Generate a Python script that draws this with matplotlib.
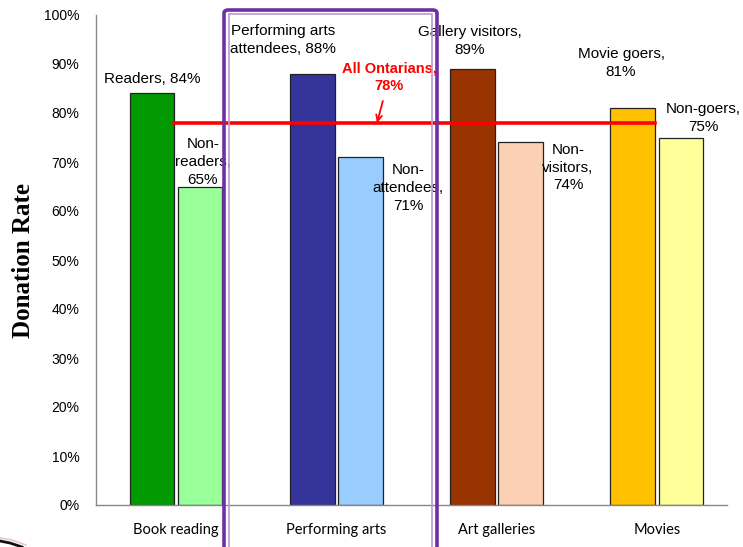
import numpy as np
import matplotlib
matplotlib.use("Agg")
from matplotlib import pyplot as plt
from matplotlib.patches import FancyBboxPatch
from matplotlib.lines import Line2D

# donation rate by arts participation, participants vs non-participants
categories = ["Book reading", "Performing arts", "Art galleries", "Movies"]
participants = [84, 88, 89, 81]
non_participants = [65, 71, 74, 75]
part_labels = ["Readers", "Performing arts\nattendees", "Gallery visitors", "Movie goers"]
non_labels = ["Non-\nreaders", "Non-\nattendees", "Non-\nvisitors", "Non-goers"]
all_ontarians = 78

part_colors = ["#009900", "#333399", "#993300", "#FFC000"]
non_colors = ["#99FF99", "#99CCFF", "#FCD0B4", "#FFFF99"]

fig = plt.figure(figsize=(7.43, 5.47), dpi=100)
ax = fig.add_axes([96/743, 1-505/547, 631/743, 490/547])

x = np.arange(len(categories))
w = 0.28
off = 0.15
ax.bar(x - off, participants, w, color=part_colors, edgecolor="#222222", linewidth=0.9, zorder=2)
ax.bar(x + off, non_participants, w, color=non_colors, edgecolor="#222222", linewidth=0.9, zorder=2)

ax.set_xlim(-0.499, 3.437)
ax.set_ylim(0, 100)
ax.set_yticks(np.arange(0, 101, 10))
ax.set_yticklabels([f"{v}%" for v in range(0, 101, 10)], fontsize=10, family="Liberation Sans")
ax.set_xticks(x)
ax.set_xticklabels(categories, fontsize=10.5, family="Lato")
ax.tick_params(length=0, pad=12)
ax.tick_params(axis="x", pad=13)
for s in ["top", "right"]:
    ax.spines[s].set_visible(False)
for s in ["left", "bottom"]:
    ax.spines[s].set_color("#888888")
    ax.spines[s].set_linewidth(1)

ax.set_ylabel("Donation Rate", family="Liberation Serif", fontsize=18, fontweight="bold")
ax.yaxis.set_label_coords(-0.097, 0.5)

# province-wide average line, from first bar to last participant bar
ax.plot([x[0] - off + w/2, x[3] - off + w/2], [all_ontarians]*2, color="#FF0000", lw=2.6, zorder=3)
ax.annotate(f"All Ontarians,\n{all_ontarians}%", xy=(1.254, all_ontarians), xytext=(1.33, 87.3),
            ha="center", va="center", color="#FF0000", fontsize=10.5, fontweight="bold",
            family="Liberation Sans", linespacing=1.3,
            arrowprops=dict(arrowstyle="->", color="#FF0000", lw=1.3, shrinkA=4, shrinkB=0), zorder=4)

# bar labels
tk = dict(ha="center", va="bottom", fontsize=11, family="Liberation Sans", linespacing=1.35, zorder=4)
ax.text(x[0] - off, 85.6, f"{part_labels[0]}, {participants[0]}%", **tk)
ax.text(0.168, 64.9, f"{non_labels[0]},\n{non_participants[0]}%", **tk)
ax.text(0.668, 91.6, f"{part_labels[1]}, {participants[1]}%", **tk)
ax.text(1.447, 59.6, f"{non_labels[1]},\n{non_participants[1]}%", **tk)
ax.text(1.834, 91.5, f"{part_labels[2]},\n{participants[2]}%", **tk)
ax.text(2.445, 63.8, f"{non_labels[2]},\n{non_participants[2]}%", **tk)
ax.text(2.776, 87.0, f"{part_labels[3]},\n{participants[3]}%", **tk)
ax.text(3.288, 75.8, f"{non_labels[3]},\n{non_participants[3]}%", **tk)

# highlight box around performing arts group (double purple line)
W, H = 743, 547
outer = FancyBboxPatch((224/W, -0.02), 213/W, 1 - 10/H + 0.02,
                       boxstyle="round,pad=0,rounding_size=0.006", transform=fig.transFigure,
                       fill=False, edgecolor="#7030A0", lw=2.6, zorder=5)
inner = FancyBboxPatch((228.5/W, -0.02), 204/W, 1 - 14/H + 0.02,
                       boxstyle="square,pad=0", transform=fig.transFigure,
                       fill=False, edgecolor="#B79AD6", lw=1.2, zorder=5)
fig.patches.extend([outer, inner])

# small decorative swoosh bottom-left
fig.lines.append(Line2D([0/W, 10/W, 22/W], [1 - 541/H, 1 - 543/H, 1 - 547/H],
                        transform=fig.transFigure, color="#111111", lw=2))
fig.lines.append(Line2D([0/W, 12/W, 26/W], [1 - 538/H, 1 - 540/H, 1 - 545/H],
                        transform=fig.transFigure, color="#EBC3D2", lw=1.2))

fig.savefig("out.png", dpi=100)
